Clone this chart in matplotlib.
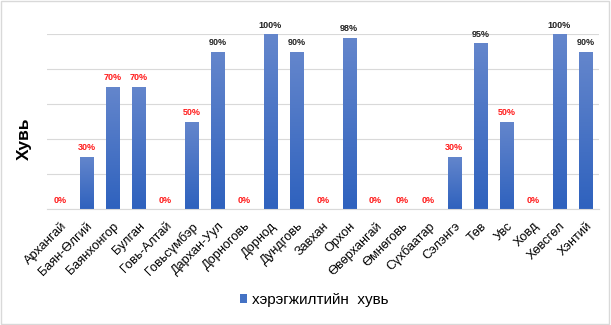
import matplotlib.pyplot as plt
import numpy as np
from matplotlib.colors import LinearSegmentedColormap

plt.rcParams['font.family'] = ['Liberation Sans', 'DejaVu Sans']

aimags = ['Архангай', 'Баян-Өлгий', 'Баянхонгор', 'Булган', 'Говь-Алтай',
          'Говьсүмбэр', 'Дархан-Уул', 'Дорноговь', 'Дорнод', 'Дундговь',
          'Завхан', 'Орхон', 'Өвөрхангай', 'Өмнөговь', 'Сүхбаатар',
          'Сэлэнгэ', 'Төв', 'Увс', 'Ховд', 'Хөвсгөл', 'Хэнтий']
percent = [0, 30, 70, 70, 0, 50, 90, 0, 100, 90, 0, 98, 0, 0, 0, 30, 95, 50, 0, 100, 90]
series_name = 'хэрэгжилтийн  хувь'

fig = plt.figure(figsize=(6.11, 3.25), dpi=100)
ax = fig.add_axes([0.077, 0.357, 0.903, 0.538])

x = np.arange(len(aimags))
bars = ax.bar(x, percent, width=0.5, color='#4472C4', label=series_name, zorder=2)

# vertical gradient on each bar, light top -> darker bottom
cmap = LinearSegmentedColormap.from_list('grad', ['#2F62BE', '#6486CC'])
grad = np.linspace(0, 1, 100).reshape(-1, 1)
for b in bars:
    if b.get_height() <= 0:
        continue
    b.set_facecolor('none')
    im = ax.imshow(grad, cmap=cmap, origin='lower', aspect='auto', zorder=2,
                   extent=[b.get_x(), b.get_x() + b.get_width(), 0, b.get_height()])
    im.set_clip_path(b)

for xi, v in zip(x, percent):
    col = '#222222' if v >= 90 else '#FF1A1A'
    ax.annotate(f'{v}%', (xi, v), xytext=(0, 3), textcoords='offset points',
                ha='center', va='bottom', fontsize=6.5, fontweight='bold',
                color=col, annotation_clip=False)

ax.set_xlim(-0.5, len(aimags) - 0.5)
ax.set_ylim(0, 100)
ax.set_yticks([0, 20, 40, 60, 80, 100])
ax.set_yticklabels([])
ax.tick_params(axis='y', length=0)
ax.tick_params(axis='x', length=0, pad=8)
ax.grid(axis='y', color='#D9D9D9', linewidth=0.8, zorder=0)
for s in ['top', 'right', 'left']:
    ax.spines[s].set_visible(False)
ax.spines['bottom'].set_color('#D9D9D9')
ax.set_xticks(x)
ax.set_xticklabels(aimags, rotation=45, ha='right', rotation_mode='anchor', fontsize=9.2)
ax.set_ylabel('Хувь', fontsize=12.5, fontweight='bold')
ax.yaxis.set_label_coords(-0.027, 0.4)

ax.legend(loc='center', bbox_to_anchor=(0.484, -0.52), frameon=False, fontsize=11,
          handlelength=0.5, handleheight=0.5, handletextpad=0.3)

fig.patches.append(plt.Rectangle((0.002, 0.003), 0.995, 0.993, transform=fig.transFigure,
                                 fill=False, edgecolor='#D9D9D9', linewidth=1))

fig.savefig('out.png', dpi=100)
